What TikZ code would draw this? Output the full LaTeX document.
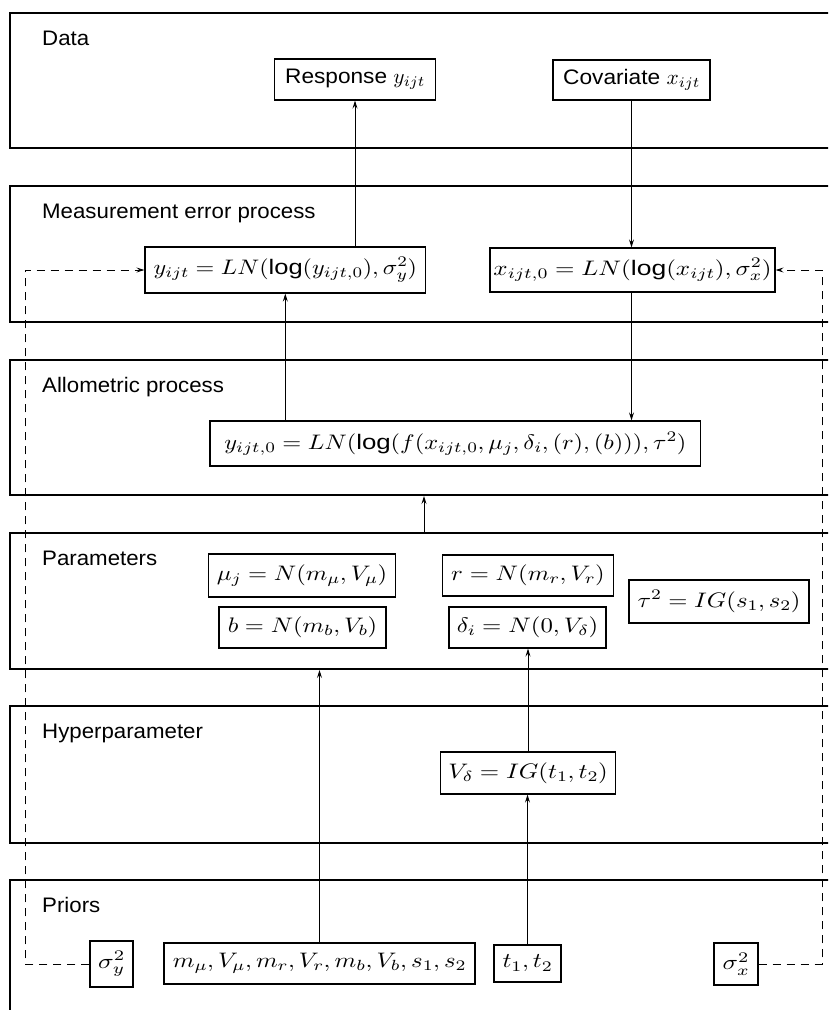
\documentclass[tikz,border=0pt]{standalone}
\usepackage[no-math]{fontspec}
\usepackage{graphicx}
\setmainfont{Liberation Sans}[FakeStretch=1.06]
\DeclareFontShape{OML}{cmm}{m}{it}{<-12> cmmi5 <12-18> cmmi7 <18-> cmmi10}{}
\DeclareFontShape{OT1}{cmr}{m}{n}{<-12> cmr5 <12-18> cmr7 <18-> cmr10}{}
\usetikzlibrary{arrows.meta,calc}
\newcommand{\fitw}[2]{\resizebox{#1pt}{\height}{#2}}
\tikzset{
 band/.style={draw, line width=2pt, anchor=north west, minimum width=840pt, inner sep=0pt},
 lbl/.style={anchor=base west, inner sep=0pt, font=\fontsize{21}{25}\selectfont},
 box/.style={draw, line width=1.2pt, inner sep=0pt, font=\fontsize{21}{25}\selectfont},
 arr/.style={-{Stealth[length=8pt,width=5pt,inset=3pt]}, line width=0.9pt},
 dasharr/.style={arr, dash pattern=on 8pt off 6pt},
}
\begin{document}
\begin{tikzpicture}[x=1pt,y=-1pt]
\useasboundingbox (0,0) rectangle (828,1010);
\clip (0,0) rectangle (828,1010);
% bands
\node[band, minimum height=135pt] (bData) at (9,12) {};
\node[band, minimum height=136pt] (bMeas) at (9,185) {};
\node[band, minimum height=135pt] (bAllo) at (9,359) {};
\node[band, minimum height=136pt] (bPar) at (9,532) {};
\node[band, minimum height=137pt] (bHyp) at (9,705) {};
\node[band, minimum height=170pt] (bPri) at (9,879) {};
% labels
\node[lbl] (lData) at ([shift={(33,33)}]bData.north west) {Data};
\node[lbl] (lMeas) at ([shift={(33,33)}]bMeas.north west) {Measurement error process};
\node[lbl] (lAllo) at ([shift={(33,33)}]bAllo.north west) {Allometric process};
\node[lbl] (lPar) at ([shift={(33,33)}]bPar.north west) {Parameters};
\node[lbl] (lHyp) at ([shift={(33,33)}]bHyp.north west) {Hyperparameter};
\node[lbl] (lPri) at ([shift={(33,33)}]bPri.north west) {Priors};
% boxes
\node[box, minimum width=161pt, minimum height=41pt] (resp) at (355,79.5) {\fitw{139.7}{Response $y_{ijt}$}};
\node[box, minimum width=157pt, minimum height=40pt] (cov) at (631.5,80) {\fitw{136.7}{Covariate $x_{ijt}$}};
\node[box, minimum width=280.6pt, minimum height=46pt] (yobs) at (285.3,270) {\fitw{263.3}{$y_{ijt}=LN(\mbox{log}(y_{ijt,0}),\sigma_y^2)$}};
\node[box, minimum width=285pt, minimum height=44pt] (x0) at (632.5,270) {\fitw{278}{$x_{ijt,0}=LN(\mbox{log}(x_{ijt}),\sigma_x^2)$}};
\node[box, minimum width=490.6pt, minimum height=45pt] (allo) at (455.3,443.5) {\fitw{462}{$y_{ijt,0}=LN(\mbox{log}(f(x_{ijt,0},\mu_j,\delta_i,(r),(b))),\tau^2)$}};
\node[box, minimum width=187.5pt, minimum height=43pt] (mu) at (302,575.5) {\fitw{170.5}{$\mu_j=N(m_\mu,V_\mu)$}};
\node[box, minimum width=167pt, minimum height=41pt] (bb) at (302.5,627.5) {\fitw{149.5}{$b=N(m_b,V_b)$}};
\node[box, minimum width=170.5pt, minimum height=41pt] (rr) at (528,575.5) {\fitw{153.5}{$r=N(m_r,V_r)$}};
\node[box, minimum width=157pt, minimum height=41pt] (delta) at (527.5,627.5) {\fitw{141.5}{$\delta_i=N(0,V_\delta)$}};
\node[box, minimum width=180pt, minimum height=43pt] (tau) at (719,601.5) {\fitw{163}{$\tau^2=IG(s_1,s_2)$}};
\node[box, minimum width=175.6pt, minimum height=42pt] (Vd) at (528,773) {\fitw{159.5}{$V_\delta=IG(t_1,t_2)$}};
\node[box, minimum width=43pt, minimum height=46pt] (sy) at (111.5,964) {\fitw{26.6}{$\sigma_y^2$}};
\node[box, minimum width=311pt, minimum height=41pt] (mpri) at (319.5,963.5) {\fitw{293.3}{$m_\mu,V_\mu,m_r,V_r,m_b,V_b,s_1,s_2$}};
\node[box, minimum width=67pt, minimum height=37pt] (tp) at (527.5,963.5) {\fitw{50}{$t_1,t_2$}};
\node[box, minimum width=44pt, minimum height=42pt] (sx) at (736,964) {\fitw{26.7}{$\sigma_x^2$}};
% connectors
\coordinate (ax) at (424,0);
\coordinate (lc) at (25,270);
\coordinate (rc) at (822,270);
\draw[arr] (yobs.north -| resp.south) -- (resp.south);
\draw[arr] (cov.south) -- (cov.south |- x0.north);
\draw[arr] (allo.north -| yobs.south) -- (yobs.south);
\draw[arr] (x0.south -| cov.south) -- (cov.south |- allo.north);
\draw[arr] (bPar.north -| ax) -- (bAllo.south -| ax);
\draw[arr] (mpri.north) -- (mpri.north |- bPar.south);
\draw[arr] (tp.north) -- (tp.north |- Vd.south);
\draw[arr] (Vd.north) -- (Vd.north |- delta.south);
\draw[dasharr] (sy.west) -| (lc) -- (yobs.west);
\draw[dasharr] (sx.east) -| (rc) -- (x0.east);
\end{tikzpicture}
\end{document}
